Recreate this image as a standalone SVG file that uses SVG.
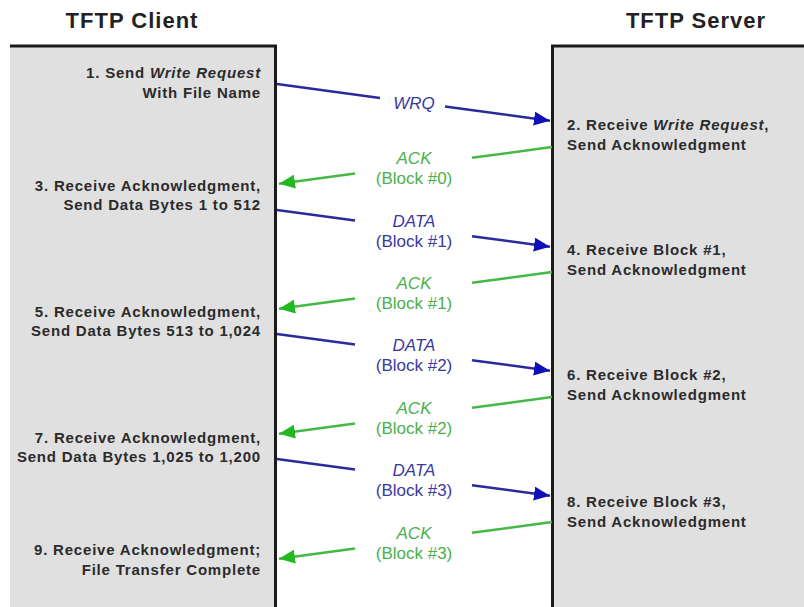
<svg xmlns="http://www.w3.org/2000/svg" width="804" height="607" viewBox="0 0 804 607">
<style>
.title{font-family:"Liberation Sans",Arial,sans-serif;font-weight:bold;font-size:22px;fill:#222;letter-spacing:1px;text-anchor:middle}
.step{font-family:"Liberation Sans",Arial,sans-serif;font-weight:bold;font-size:15px;fill:#2b2b2b;letter-spacing:0.8px}
.l{text-anchor:end}
.lbl{font-family:"Liberation Sans",Arial,sans-serif;font-size:17px;text-anchor:middle}
.it{font-style:italic}
.blue{fill:#3a3aa0}
.green{fill:#4cb04c}
.bl{stroke:#2a2a9c;stroke-width:2.5;fill:none}
.gl{stroke:#45b845;stroke-width:2.5;fill:none}
.panel{fill:#e0e0e0}
.edge{stroke:#1a1a1a;stroke-width:3;fill:none}
</style>
<defs>
<marker id="ab" markerUnits="userSpaceOnUse" markerWidth="18" markerHeight="14" refX="16" refY="7" orient="auto"><path d="M0,0 L16,7 L0,14 Z" fill="#1010b8"/></marker>
<marker id="ag" markerUnits="userSpaceOnUse" markerWidth="18" markerHeight="14" refX="16" refY="7" orient="auto"><path d="M0,0 L16,7 L0,14 Z" fill="#22b822"/></marker>
</defs>
<rect width="804" height="607" fill="#ffffff"/>
<g id="client">
<rect class="panel" x="10" y="46" width="266" height="561"/>
<path class="edge" d="M10,46 H275.5 V607"/>
<text class="title" x="132" y="28">TFTP Client</text>
<text class="step l" x="261" y="78">1. Send <tspan font-style="italic">Write Request</tspan></text>
<text class="step l" x="261" y="98">With File Name</text>
<text class="step l" x="261" y="191">3. Receive Acknowledgment,</text>
<text class="step l" x="261" y="210">Send Data Bytes 1 to 512</text>
<text class="step l" x="261" y="317">5. Receive Acknowledgment,</text>
<text class="step l" x="261" y="336">Send Data Bytes 513 to 1,024</text>
<text class="step l" x="261" y="443">7. Receive Acknowledgment,</text>
<text class="step l" x="261" y="462">Send Data Bytes 1,025 to 1,200</text>
<text class="step l" x="261" y="555">9. Receive Acknowledgment;</text>
<text class="step l" x="261" y="575">File Transfer Complete</text>
</g>
<g id="server">
<rect class="panel" x="552" y="46" width="252" height="561"/>
<path class="edge" d="M552.5,607 V46 H804"/>
<text class="title" x="696" y="28">TFTP Server</text>
<text class="step" x="567" y="130">2. Receive <tspan font-style="italic">Write Request</tspan>,</text>
<text class="step" x="567" y="150">Send Acknowledgment</text>
<text class="step" x="567" y="255">4. Receive Block #1,</text>
<text class="step" x="567" y="275">Send Acknowledgment</text>
<text class="step" x="567" y="380">6. Receive Block #2,</text>
<text class="step" x="567" y="400">Send Acknowledgment</text>
<text class="step" x="567" y="507">8. Receive Block #3,</text>
<text class="step" x="567" y="527">Send Acknowledgment</text>
</g>
<g id="connectors">
<path class="bl" d="M277,84 L380,97.9"/>
<path class="bl" d="M445,106.6 L550,120.7" marker-end="url(#ab)"/>
<path class="gl" d="M552,147 L472,157.8"/>
<path class="gl" d="M355,173.5 L279,183.7" marker-end="url(#ag)"/>
<path class="bl" d="M277,210 L355,220.5"/>
<path class="bl" d="M472,236.2 L550,246.7" marker-end="url(#ab)"/>
<path class="gl" d="M552,272 L472,282.8"/>
<path class="gl" d="M355,298.5 L279,308.7" marker-end="url(#ag)"/>
<path class="bl" d="M277,334 L355,344.5"/>
<path class="bl" d="M472,360.2 L550,370.7" marker-end="url(#ab)"/>
<path class="gl" d="M552,397 L472,407.8"/>
<path class="gl" d="M355,423.5 L279,433.7" marker-end="url(#ag)"/>
<path class="bl" d="M277,459 L355,469.5"/>
<path class="bl" d="M472,485.2 L550,495.7" marker-end="url(#ab)"/>
<path class="gl" d="M552,522 L472,532.8"/>
<path class="gl" d="M355,548.5 L279,558.7" marker-end="url(#ag)"/>
<text class="lbl it blue" x="414" y="109">WRQ</text>
<text class="lbl it green" x="414" y="163.5">ACK</text>
<text class="lbl green" x="414" y="183.5">(Block #0)</text>
<text class="lbl it blue" x="414" y="226.5">DATA</text>
<text class="lbl blue" x="414" y="246.5">(Block #1)</text>
<text class="lbl it green" x="414" y="288.5">ACK</text>
<text class="lbl green" x="414" y="308.5">(Block #1)</text>
<text class="lbl it blue" x="414" y="350.5">DATA</text>
<text class="lbl blue" x="414" y="370.5">(Block #2)</text>
<text class="lbl it green" x="414" y="413.5">ACK</text>
<text class="lbl green" x="414" y="433.5">(Block #2)</text>
<text class="lbl it blue" x="414" y="475.5">DATA</text>
<text class="lbl blue" x="414" y="495.5">(Block #3)</text>
<text class="lbl it green" x="414" y="538.5">ACK</text>
<text class="lbl green" x="414" y="558.5">(Block #3)</text>
</g>
</svg>
